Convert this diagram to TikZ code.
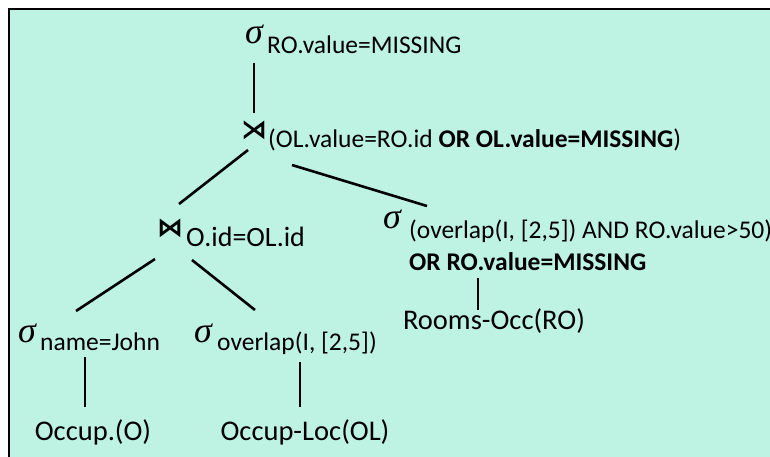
\documentclass[tikz,border=0pt]{standalone}
\usepackage{fontspec}
\setmainfont{Carlito}
\newfontfamily\opfont{DejaVu Sans}
\newfontfamily\sigfont{Liberation Serif}
\usetikzlibrary{positioning}
\definecolor{planmint}{HTML}{BEF2E2}

\begin{document}
\begin{tikzpicture}[x=1pt, y=-1pt]
  \tikzset{
    sym/.style={inner sep=0pt, anchor=base, font=\sigfont\itshape\fontsize{36}{36}\selectfont},
    op/.style={inner sep=0pt, font=\opfont\bfseries\fontsize{26}{26}\selectfont},
    cond/.style={inner sep=0pt, anchor=base west, align=left, font=\fontsize{25.5}{32}\selectfont},
    rel/.style={inner sep=0pt, anchor=base, font=\fontsize{28.5}{32}\selectfont},
    link/.style={line width=2.6pt}
  }
  \useasboundingbox (0,0) rectangle (770,456);
  \fill[white] (0,0) rectangle (770,456);
  \draw[line width=2pt, fill=planmint] (9,9) rectangle (775,461);

  \node[sym] (sel1) at (254,43) {σ};
  \node[cond] (sel1c) at (267,53) {RO.value=MISSING};
  \node[op] (join1) at (254,130) {⋊};
  \node[cond] (join1c) at (268,147) {(OL.value=RO.id \textbf{OR OL.value=MISSING})};
  \node[op] (join2) at (170,228) {⋈};
  \node[cond, font=\fontsize{28}{32}\selectfont] (join2c) at (186,246) {O.id=OL.id};
  \node[sym] (sel2) at (27,342) {σ};
  \node[cond] (sel2c) at (40,350) {name=John};
  \node[sym] (sel3) at (203,342) {σ};
  \node[cond] (sel3c) at (217,350) {overlap(I, [2,5])};
  \node[sym] (sel4) at (392,228) {σ};
  \node[cond] (sel4c) at (409,270) {(overlap(I, [2,5]) AND RO.value>50)\\\textbf{OR RO.value=MISSING}};
  \node[rel] (occ) at (93,440) {Occup.(O)};
  \node[rel] (occloc) at (305,440) {Occup-Loc(OL)};
  \node[rel] (rooms) at (494,329) {Rooms-Occ(RO)};

  \draw[link] ([yshift=-20pt]sel1.base) -- ([yshift=17pt]join1.center);
  \draw[link] ([xshift=-6pt,yshift=-20pt]join1.center) -- ([xshift=9pt,yshift=24pt]join2.center);
  \draw[link] ([xshift=38pt,yshift=-35pt]join1.center) -- ([xshift=35pt,yshift=22pt]sel4.base);
  \draw[link] ([xshift=-15pt,yshift=-31pt]join2.center) -- ([xshift=49pt,yshift=31pt]sel2.base);
  \draw[link] ([xshift=22pt,yshift=-32pt]join2.center) -- ([xshift=52pt,yshift=32pt]sel3.base);
  \draw[link] ([xshift=58pt,yshift=-15pt]sel2.base) -- ([xshift=-8pt,yshift=33pt]occ.base);
  \draw[link] ([xshift=97pt,yshift=-20pt]sel3.base) -- ([xshift=-5pt,yshift=33pt]occloc.base);
  \draw[link] ([xshift=86pt,yshift=-50pt]sel4.base) -- ([xshift=-16pt,yshift=19pt]rooms.base);
\end{tikzpicture}
\end{document}
